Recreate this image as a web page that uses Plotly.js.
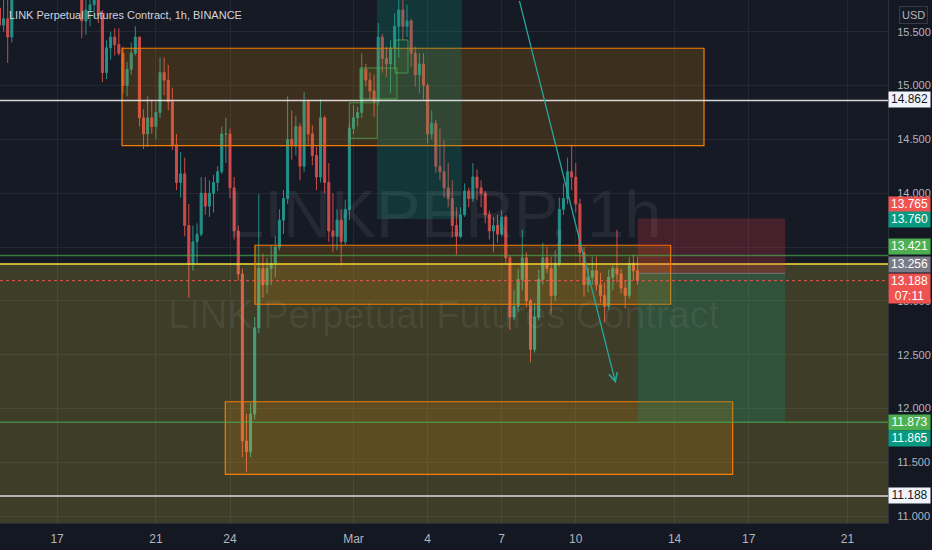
<!DOCTYPE html>
<html>
<head>
<meta charset="utf-8">
<script src="https://cdn.plot.ly/plotly-3.0.1.min.js"></script>
<style>
html,body{margin:0;padding:0;background:#141823;}
#chart{width:932px;height:550px;}
</style>
</head>
<body>
<div id="chart"></div>
<script>
// ---- data (4h candles, LINK perpetual, Feb 14 16:00 -> Mar 12 12:00, 2022) ----
const firstTime = '2022-02-14T16:00:00Z';
const firstOpen = 15.72;
const closes = [15.56,15.62,15.45,15.85,16.10,16.30,16.50,16.70,16.60,16.55,16.40,16.35,16.25,16.10,16.15,16.20,16.05,16.00,15.95,15.92,
15.60,15.70,15.75,15.80,15.65,15.12,15.35,15.45,15.38,15.30,15.00,15.15,15.30,15.45,14.70,14.55,14.70,14.62,14.75,15.12,
15.05,14.85,14.45,14.10,14.18,13.70,13.35,13.55,13.62,14.00,13.88,14.00,14.10,14.20,14.55,14.55,14.05,13.65,13.25,11.70,
11.60,11.95,12.75,13.30,13.15,13.30,13.35,13.50,13.75,13.95,14.50,14.45,14.62,14.25,14.85,14.55,14.35,14.15,14.70,14.10,
13.65,13.60,13.75,13.55,13.85,14.60,14.70,14.75,15.15,15.05,14.95,14.85,15.45,15.25,15.20,15.35,15.55,15.70,15.55,15.60,
15.30,15.10,15.20,15.00,14.55,14.65,14.25,14.20,14.05,13.95,13.70,13.60,13.80,14.02,13.95,14.15,14.05,14.00,13.80,13.65,
13.70,13.62,13.78,13.40,12.85,12.95,13.20,13.40,13.00,12.55,12.85,13.20,13.40,13.30,13.05,13.35,13.85,13.95,14.20,14.15,
13.90,13.45,13.15,13.22,13.28,13.15,13.05,12.95,13.22,13.30,13.25,13.12,13.05,13.35,13.28,13.188];
const highs = [15.85,15.88,15.84,15.95,16.20,16.40,16.60,16.80,16.90,16.80,16.70,16.60,16.50,16.40,16.30,16.35,16.30,16.20,16.10,16.05,
15.95,15.85,15.85,15.90,15.88,15.70,15.42,15.50,15.53,15.53,15.36,15.22,15.40,15.55,15.45,14.78,14.90,14.87,14.85,15.26,
15.26,15.19,14.98,14.55,14.38,14.33,13.90,13.70,13.72,14.15,14.15,14.12,14.17,14.25,14.62,14.70,14.60,14.15,13.70,13.30,
11.95,12.05,12.85,13.99,13.44,13.40,13.52,13.60,13.85,14.03,14.90,14.77,14.72,14.65,14.94,14.87,14.63,14.43,14.87,14.72,
14.28,14.00,13.85,13.85,13.94,14.65,14.82,14.80,15.30,15.20,15.12,15.10,15.58,15.48,15.36,15.42,15.67,15.85,15.82,15.75,
15.62,15.36,15.30,15.30,15.02,14.77,14.68,14.60,14.49,14.28,14.12,13.87,13.87,14.09,14.05,14.28,14.22,14.12,14.02,13.84,
13.78,13.80,13.84,13.80,13.42,13.10,13.30,13.66,13.45,13.02,12.98,13.29,13.54,13.50,13.41,13.47,13.96,14.09,14.33,14.45,
14.28,13.95,13.50,13.31,13.41,13.41,13.26,13.17,13.29,13.33,13.66,13.30,13.19,13.41,13.43,13.41];
const lows = [15.47,15.50,15.21,15.40,15.80,16.00,16.20,16.40,16.50,16.40,16.30,16.20,16.10,16.00,15.95,16.00,15.95,15.90,15.85,15.85,
15.44,15.47,15.55,15.62,15.58,15.03,15.06,15.24,15.28,15.28,14.93,14.90,15.10,15.28,14.62,14.41,14.43,14.55,14.50,14.70,
14.91,14.77,14.40,14.03,13.96,13.60,13.03,13.28,13.35,13.60,13.80,13.78,13.82,14.02,14.18,14.28,13.95,13.57,13.19,11.55,
11.41,11.55,11.90,12.70,13.03,13.07,13.15,13.22,13.47,13.62,13.90,14.31,14.35,14.12,14.20,14.45,14.26,14.03,14.10,14.00,
13.55,13.45,13.47,13.33,13.52,13.75,14.55,14.62,14.70,14.99,14.87,14.71,14.82,15.12,15.08,14.93,15.17,15.26,15.42,15.45,
15.17,14.99,14.93,14.87,14.46,14.50,14.19,14.12,13.96,13.87,13.59,13.43,13.58,13.78,13.87,13.92,13.94,13.87,13.72,13.57,
13.45,13.54,13.60,13.35,12.73,12.82,12.90,13.10,12.94,12.43,12.52,12.82,13.15,13.26,12.88,13.00,13.32,13.80,13.90,14.03,
13.82,13.35,13.04,13.08,13.15,13.10,12.98,12.80,12.92,13.10,13.17,13.07,12.93,13.02,13.19,13.15];

// axis ticks
const priceTicks = [11.0,11.5,12.0,12.5,13.0,13.5,14.0,14.5,15.0,15.5];
const priceTickText = ['11.000','11.500','12.000','12.500','13.000','','14.000','14.500','15.000','15.500'];
const dateTicks = ['2022-02-17','2022-02-21','2022-02-24','2022-03-01','2022-03-04','2022-03-07','2022-03-10','2022-03-14','2022-03-17','2022-03-21'];
const dateTickText = ['17','21','24','Mar','4','7','10','14','17','21'];

// levels shown on the price scale
const levelWhite = [14.862, 11.188];
const levelGreen = [13.421, 11.873];
const lastPrice = 13.188;
const zoneTop = 13.343;
const entryPrice = 13.256, stopPrice = 13.765, targetPrice = 11.873;

// ---- build ----
const t0 = Date.parse(firstTime);
const times = closes.map((_, i) => new Date(t0 + i * 4 * 3600e3).toISOString().slice(0, 19).replace('T', ' '));
const opens = [firstOpen].concat(closes.slice(0, -1));

const FONT = "'Liberation Sans', Arial, sans-serif";
const PLOT_H = 523;
const py = p => 1 - p / PLOT_H;

const trace = {
  type: 'candlestick', x: times, open: opens, high: highs, low: lows, close: closes,
  increasing: {line: {color: '#26a69a', width: 1}, fillcolor: '#26a69a'},
  decreasing: {line: {color: '#ef5350', width: 1}, fillcolor: '#ef5350'},
  whiskerwidth: 0, opacity: 0.85, hoverinfo: 'skip', showlegend: false
};

const shapes = [];
// big yellow zone below the yellow level
shapes.push({type: 'rect', xref: 'x', yref: 'y', x0: '2022-01-01', x1: '2022-05-01', y0: 9, y1: zoneTop,
  fillcolor: 'rgba(255,235,59,0.17)', line: {color: 'rgba(255,235,59,0.95)', width: 1.5}});
// orange boxes
const orangeBoxes = [
  ['2022-02-19 15:04', '2022-03-15 04:35', 14.442, 15.346],
  ['2022-02-25 00:17', '2022-03-13 20:10', 12.969, 13.517],
  ['2022-02-23 19:26', '2022-03-16 08:25', 11.390, 12.064]
];
orangeBoxes.forEach(b => shapes.push({type: 'rect', xref: 'x', yref: 'y', x0: b[0], x1: b[1], y0: b[2], y1: b[3],
  fillcolor: 'rgba(255,152,0,0.17)', line: {color: '#f57c00', width: 1.2}}));
// teal (long position profit area)
shapes.push({type: 'rect', xref: 'x', yref: 'y', x0: '2022-03-01 22:50', x1: '2022-03-05 09:09', y0: 13.760, y1: 16.6,
  fillcolor: 'rgba(8,153,129,0.22)', line: {width: 0}});
// short position tool
const posX0 = '2022-03-12 12:14', posX1 = '2022-03-18 11:32';
shapes.push({type: 'rect', xref: 'x', yref: 'y', x0: posX0, x1: posX1, y0: entryPrice, y1: stopPrice,
  fillcolor: 'rgba(242,54,69,0.22)', line: {width: 0}});
shapes.push({type: 'rect', xref: 'x', yref: 'y', x0: posX0, x1: posX1, y0: targetPrice, y1: entryPrice,
  fillcolor: 'rgba(8,153,129,0.22)', line: {width: 0}});
shapes.push({type: 'line', xref: 'x', yref: 'y', x0: posX0, x1: posX1, y0: entryPrice, y1: entryPrice,
  line: {color: 'rgba(120,123,134,0.9)', width: 1}});
// small green boxes
const greenBoxes = [
  ['2022-02-28 19:55', '2022-03-01 23:08', 14.510, 14.840],
  ['2022-03-01 06:19', '2022-03-02 18:16', 14.875, 15.163],
  ['2022-03-02 16:20', '2022-03-03 04:57', 15.116, 15.423]
];
greenBoxes.forEach(b => shapes.push({type: 'rect', xref: 'x', yref: 'y', x0: b[0], x1: b[1], y0: b[2], y1: b[3],
  fillcolor: 'rgba(76,175,80,0.10)', line: {color: 'rgba(76,175,80,0.75)', width: 1}}));
// horizontal levels
levelWhite.forEach(v => shapes.push({type: 'line', xref: 'paper', yref: 'y', x0: 0, x1: 1, y0: v, y1: v,
  line: {color: 'rgba(235,235,235,0.9)', width: 1.5}}));
levelGreen.forEach(v => shapes.push({type: 'line', xref: 'paper', yref: 'y', x0: 0, x1: 1, y0: v, y1: v,
  line: {color: 'rgba(76,175,80,0.65)', width: 1.5}}));
shapes.push({type: 'line', xref: 'paper', yref: 'y', x0: 0, x1: 1, y0: lastPrice, y1: lastPrice,
  line: {color: '#ef5350', width: 1, dash: 'dot'}});

// price-scale labels
const scaleLabels = [
  {txt: '14.862', y: 100, bg: '#f0f3fa', fg: '#131722'},
  {txt: '13.765', y: 204.2, bg: '#ef5350', fg: '#ffffff'},
  {txt: '13.760', y: 219.4, bg: '#089981', fg: '#ffffff'},
  {txt: '13.421', y: 246.8, bg: '#4caf50', fg: '#ffffff'},
  {txt: '13.256', y: 264.2, bg: '#787b86', fg: '#ffffff'},
  {txt: '13.188<br>07:11', y: 288.3, bg: '#ef5350', fg: '#ffffff', h: 25},
  {txt: '11.873', y: 422.5, bg: '#4caf50', fg: '#ffffff'},
  {txt: '11.865', y: 438.5, bg: '#089981', fg: '#ffffff'},
  {txt: '11.188', y: 495.8, bg: '#f0f3fa', fg: '#131722'}
];
const annotations = scaleLabels.map(l => ({
  xref: 'paper', yref: 'paper', x: 1, y: py(l.y), xanchor: 'left', yanchor: 'middle',
  text: l.txt, showarrow: false, bgcolor: l.bg, font: {family: FONT, size: 12, color: l.fg},
  width: 37, height: l.h || 10.5, borderpad: 2, align: 'center'
}));
annotations.push({xref: 'paper', yref: 'paper', x: 1, xshift: 11, y: py(14.7), xanchor: 'left', yanchor: 'middle',
  text: 'USD', showarrow: false, font: {family: FONT, size: 11, color: '#b2b5be'},
  bordercolor: '#363a45', borderwidth: 1, borderpad: 2, bgcolor: '#161a25'});
// title
annotations.push({xref: 'paper', yref: 'paper', x: 0, xshift: 7, y: py(15), xanchor: 'left', yanchor: 'middle',
  text: 'LINK Perpetual Futures Contract, 1h, BINANCE', showarrow: false,
  font: {family: FONT, size: 11, color: '#d1d4dc'}});
// watermarks
annotations.push({xref: 'paper', yref: 'paper', x: 0.5, y: py(214), xanchor: 'center', yanchor: 'middle',
  text: 'LINKPERP, 1h', showarrow: false, font: {family: FONT, size: 67, color: 'rgba(255,255,255,0.065)'}});
annotations.push({xref: 'paper', yref: 'paper', x: 0.5, y: py(315), xanchor: 'center', yanchor: 'middle',
  text: 'LINK Perpetual Futures Contract', showarrow: false, font: {family: FONT, size: 38, color: 'rgba(255,255,255,0.065)'}});
// trend arrow
annotations.push({xref: 'x', yref: 'y', x: '2022-03-11 14:46', y: 12.235, axref: 'x', ayref: 'y',
  ax: '2022-03-07 16:50', ay: 15.80, showarrow: true, arrowhead: 5, arrowsize: 1.3, arrowwidth: 1.3,
  arrowcolor: '#26a69a', text: ''});

const layout = {
  width: 932, height: 550,
  margin: {l: 0, r: 44, t: 0, b: 27, pad: 0},
  paper_bgcolor: '#141823', plot_bgcolor: '#161a25',
  showlegend: false,
  xaxis: {type: 'date', range: ['2022-02-14 16:31', '2022-03-22 15:22'],
    tickvals: dateTicks, ticktext: dateTickText, showgrid: true, gridcolor: '#242835', gridwidth: 1,
    tickfont: {family: FONT, size: 12, color: '#b2b5be'}, showline: true, linecolor: '#2a2e39', linewidth: 1,
    ticks: '', zeroline: false, rangeslider: {visible: false}, fixedrange: true, ticklabelstandoff: 5},
  yaxis: {side: 'right', range: [10.938, 15.794], tickvals: priceTicks, ticktext: priceTickText,
    showgrid: true, gridcolor: '#242835', gridwidth: 1, zeroline: false,
    tickfont: {family: FONT, size: 11, color: '#b2b5be'}, showline: true, linecolor: '#2a2e39', linewidth: 1,
    ticks: '', fixedrange: true, ticklabelstandoff: 6},
  shapes: shapes,
  annotations: annotations
};

Plotly.newPlot('chart', [trace], layout, {staticPlot: true, displayModeBar: false});
</script>
</body>
</html>
